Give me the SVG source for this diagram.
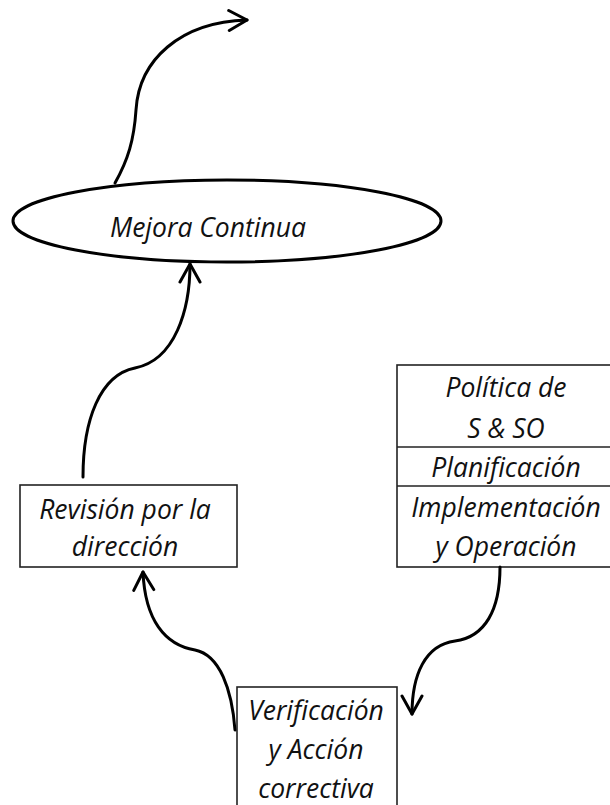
<svg xmlns="http://www.w3.org/2000/svg" width="610" height="805" viewBox="0 0 610 805">
<style>
.lbl{font-family:"Open Sans","Liberation Sans",sans-serif;font-style:italic;font-size:26.5px;fill:#111;text-anchor:middle}
.box{fill:#fff;stroke:#222;stroke-width:1.6}
.conn{fill:none;stroke:#000;stroke-width:3;stroke-linecap:round}
</style>
<defs>
<marker id="arr" markerUnits="userSpaceOnUse" markerWidth="24" markerHeight="28" refX="20" refY="12" orient="auto" viewBox="0 0 24 28">
<path d="M2,2 L20,12 L2,22" fill="none" stroke="#000" stroke-width="3" stroke-linecap="round" stroke-linejoin="round"/>
</marker>
</defs>
<rect width="610" height="805" fill="#fff"/>
<g id="mejora">
<ellipse cx="227" cy="221" rx="214" ry="41" fill="#fff" stroke="#000" stroke-width="3"/>
<text class="lbl" x="208" y="237">Mejora Continua</text>
</g>
<g id="politica">
<rect class="box" x="397" y="365" width="215" height="202"/>
<line x1="397" y1="447" x2="612" y2="447" stroke="#222" stroke-width="1.6"/>
<line x1="397" y1="486" x2="612" y2="486" stroke="#222" stroke-width="1.6"/>
<text class="lbl" x="506" y="397">Política de</text>
<text class="lbl" x="506" y="438">S &amp; SO</text>
<text class="lbl" x="506" y="477">Planificación</text>
<text class="lbl" x="506" y="517">Implementación</text>
<text class="lbl" x="506" y="556">y Operación</text>
</g>
<g id="revision">
<rect class="box" x="20" y="485" width="217" height="82"/>
<text class="lbl" x="125" y="519">Revisión por la</text>
<text class="lbl" x="125" y="556">dirección</text>
</g>
<g id="verificacion">
<rect class="box" x="237" y="687" width="160" height="130"/>
<text class="lbl" x="316" y="720">Verificación</text>
<text class="lbl" x="316" y="759">y Acción</text>
<text class="lbl" x="316" y="798">correctiva</text>
</g>
<g id="connectors">
<path class="conn" d="M115,183 C128,160 134,140 136,110 C139,60 180,22 247,20" marker-end="url(#arr)"/>
<path class="conn" d="M83,477 C83,420 100,375 135,368 C175,360 190,310 190,264" marker-end="url(#arr)"/>
<path class="conn" d="M235,730 C232,690 220,655 195,650 C165,645 145,620 143,572" marker-end="url(#arr)"/>
<path class="conn" d="M500,567 C500,610 485,637 455,641 C425,645 412,675 412,714" marker-end="url(#arr)"/>
</g>
</svg>
